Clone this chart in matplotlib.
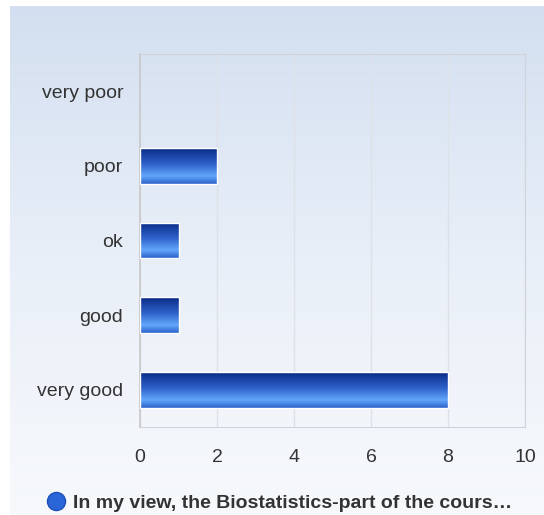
import numpy as np
import matplotlib.pyplot as plt
from matplotlib.lines import Line2D
from matplotlib.colors import LinearSegmentedColormap

# data
categories = ['very good', 'good', 'ok', 'poor', 'very poor']
counts = [8, 1, 1, 2, 0]
xticks = [0, 2, 4, 6, 8, 10]
series_name = 'In my view, the Biostatistics-part of the cours\u2026'

plt.rcParams['font.family'] = ['Liberation Sans', 'DejaVu Sans']
txt = '#333333'

fig = plt.figure(figsize=(5.44, 5.15), dpi=100)

# background panel with vertical gradient
bg = fig.add_axes([10/544, 0, 1 - 10/544, 1 - 6/515], zorder=-10)
bg_cmap = LinearSegmentedColormap.from_list('bg', ['#d3dff0', '#e9eff8', '#f7f9fc'])
bg.imshow(np.linspace(0, 1, 256).reshape(-1, 1), aspect='auto', cmap=bg_cmap,
          extent=[0, 1, 0, 1], origin='upper')
bg.axis('off')

ax = fig.add_axes([140/544, (515-427)/515, (525-140)/544, (427-54)/515])
ax.set_facecolor('none')

y = np.arange(len(categories))
bars = ax.barh(y, counts, height=0.48, color='none', edgecolor='none', zorder=3)

# bar gradient: dark navy on top, light blue below the middle, darker blue at the bottom
bar_cmap = LinearSegmentedColormap.from_list(
    'bar', [(0.0, '#0a2a85'), (0.45, '#2f63cc'), (0.78, '#63a6fa'), (1.0, '#2a62cc')])
grad = np.linspace(0, 1, 128).reshape(-1, 1)
for b in bars:
    w = b.get_width()
    if w <= 0:
        continue
    y0 = b.get_y()
    h = b.get_height()
    im = ax.imshow(grad, aspect='auto', cmap=bar_cmap, origin='upper',
                   extent=[0, w, y0, y0 + h], zorder=3)
    im.set_clip_path(b)
    ax.barh(b.get_y() + h/2, w, height=h, color='none', edgecolor='white',
            linewidth=1.0, zorder=4)

ax.set_xlim(0, 10)
ax.set_ylim(-0.5, len(categories) - 0.5)
ax.set_xticks(xticks)
ax.set_yticks(y)
ax.set_yticklabels(categories)
ax.tick_params(axis='both', length=0, labelsize=14, colors=txt)
ax.tick_params(axis='x', pad=16)
ax.tick_params(axis='y', pad=12)
ax.xaxis.grid(True, color='#dde1e8', linewidth=1.0)
ax.set_axisbelow(True)
for side in ['top', 'right', 'bottom']:
    ax.spines[side].set_color('#d0d4da')
ax.spines['left'].set_color('#c8c8c8')
ax.spines['left'].set_linewidth(1.2)

# legend
handle = Line2D([], [], marker='o', linestyle='none', markersize=13,
                markerfacecolor='#2a66d8', markeredgecolor='#1c4fb8')
fig.legend([handle], [series_name], loc='center', bbox_to_anchor=(0.513, 1 - 503/515),
           frameon=False, handletextpad=0.4, handlelength=1.0,
           prop={'weight': 'bold', 'size': 14}, labelcolor=txt)

fig.savefig('out.png', dpi=100)
